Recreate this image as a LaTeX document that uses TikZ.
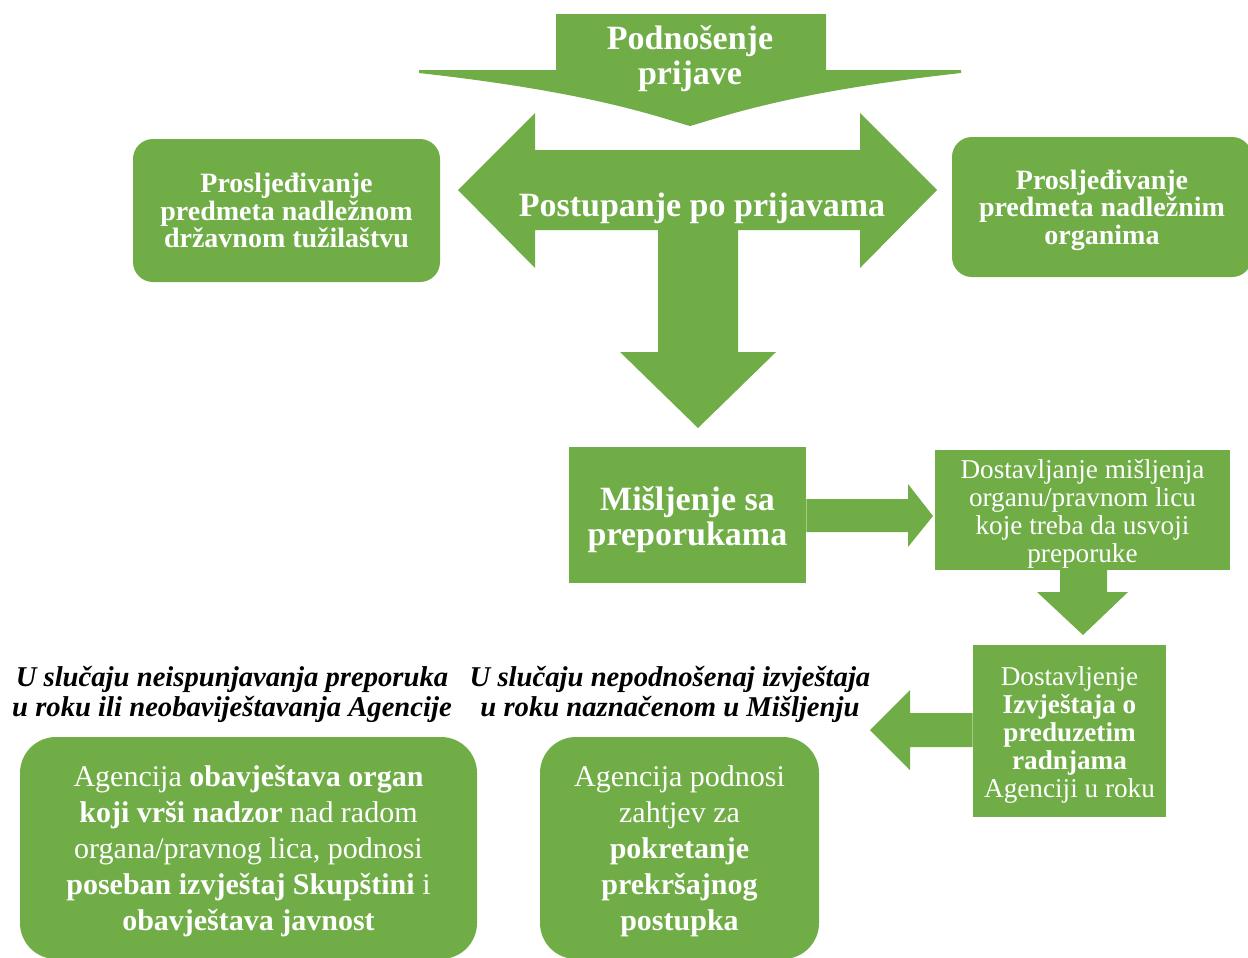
\documentclass[tikz,border=0pt]{standalone}
\usepackage{fontspec}
\setmainfont{Liberation Serif}
\definecolor{grn}{RGB}{112,173,71}
\begin{document}
\begin{tikzpicture}[x=0.75pt,y=-0.75pt,
  shp/.style={fill=grn,draw=none},
  wtext/.style={text=white,align=center,inner sep=0pt},
  rbox/.style={fill=grn,draw=none,inner sep=0pt},
  bigfont/.style={font=\fontsize{25.5}{26.3}\selectfont\bfseries},
  topbox/.style={font=\fontsize{21}{20.6}\selectfont\bfseries},
  midfont/.style={font=\fontsize{20.4}{21}\selectfont},
  lowfont/.style={font=\fontsize{22.5}{27}\selectfont},
  lbl/.style={align=center,inner sep=0pt,text=black,font=\fontsize{21.5}{22.5}\selectfont\bfseries\itshape}]
\useasboundingbox (0,0) rectangle (1248,957);
\clip (0,0) rectangle (1248,957);
% top arrow
\fill[shp] (556,14) -- (826,14) -- (826,70) -- (961,70) -- (961,73)
  .. controls (790,92) and (725,116) .. (690,126)
  .. controls (655,116) and (590,92) .. (419,73) -- (419,70) -- (556,70) -- cycle;
\node[wtext,bigfont] (sub) at (690,59) {Podnošenje\\prijave};
% three-way arrow
\fill[shp] (458,190) -- (535,113) -- (535,150) -- (860,150) -- (860,113) -- (937,190)
  -- (860,268) -- (860,230) -- (738,230) -- (738,352) -- (776,352) -- (698,428)
  -- (620,352) -- (658,352) -- (658,230) -- (535,230) -- (535,268) -- cycle;
\node[wtext,bigfont] (post) at (702,208) {Postupanje po prijavama};
% side boxes
\node[rbox,rounded corners=15pt,minimum width=230.25pt,minimum height=107.25pt]
  (tuz) at (286.5,210.5) {};
\node[wtext,topbox] (tuzT) at (tuz.center) {Prosljeđivanje\\predmeta nadležnom\\državnom tužilaštvu};
\node[rbox,rounded corners=15pt,minimum width=225pt,minimum height=105pt]
  (org) at (1102,207) {};
\node[wtext,topbox] (orgT) at ([yshift=-2.2pt]org.center) {Prosljeđivanje\\predmeta nadležnim\\organima};
% misljenje
\node[rbox,minimum width=177.75pt,minimum height=102pt] (mis) at (687.5,515) {};
\node[wtext,bigfont] (misT) at ([yshift=-3.7pt]mis.center) {Mišljenje sa\\preporukama};
\node[rbox,minimum width=221.25pt,minimum height=90pt] (dost) at (1082.5,510) {};
\node[wtext,midfont] (dostT) at ([yshift=-3pt]dost.center) {Dostavljanje mišljenja\\organu/pravnom licu\\koje treba da usvoji\\preporuke};
\node[rbox,minimum width=144.75pt,minimum height=129pt] (izv) at (1069.5,731) {};
\node[wtext,midfont] (izvT) at ([yshift=-3pt]izv.center) {Dostavljenje\\\textbf{Izvještaja o}\\\textbf{preduzetim}\\\textbf{radnjama}\\Agenciji u roku};
% small arrows
\fill[shp] (mis.east |- 0,499) -- (908,499) -- (908,484) -- (933,516) -- (908,547) -- (908,532) -- (mis.east |- 0,532) -- cycle;
\fill[shp] (1060,570) -- (1107,570) -- (1107,592) -- (1128,592) -- (1083,635) -- (1037,592) -- (1060,592) -- cycle;
\fill[shp] (izv.west |- 0,713) -- (910,713) -- (910,690) -- (870,730) -- (910,770) -- (910,747) -- (izv.west |- 0,747) -- cycle;
% labels
\node[lbl] (l1) at (232,694) {U slučaju neispunjavanja preporuka\\u roku ili neobaviještavanja Agencije};
\node[lbl] (l2) at (670,694) {U slučaju nepodnošenaj izvještaja\\u roku naznačenom u Mišljenju};
% bottom boxes
\node[rbox,rounded corners=27pt,minimum width=342.75pt,minimum height=166.5pt] (nadz) at (248.5,848) {};
\node[wtext,lowfont] (nadzT) at ([yshift=-2.2pt]nadz.center) {Agencija \textbf{obavještava organ}\\\textbf{koji vrši nadzor} nad radom\\organa/pravnog lica, podnosi\\\textbf{poseban izvještaj Skupštini} i\\\textbf{obavještava javnost}};
\node[rbox,rounded corners=27pt,minimum width=209.25pt,minimum height=166.5pt] (prek) at (679.5,848) {};
\node[wtext,lowfont] (prekT) at ([yshift=-2.2pt]prek.center) {Agencija podnosi\\zahtjev za\\\textbf{pokretanje}\\\textbf{prekršajnog}\\\textbf{postupka}};
\end{tikzpicture}
\end{document}
